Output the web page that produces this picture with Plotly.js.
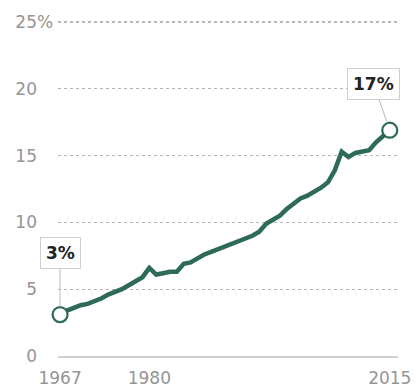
<!DOCTYPE html>
<html>
<head>
<meta charset="utf-8">
<script src="https://cdn.plot.ly/plotly-3.0.1.min.js"></script>
<style>html,body{margin:0;padding:0;background:#fff;}#chart{width:416px;height:387px;}</style>
</head>
<body>
<div id="chart"></div>
<script>
const years = [1967,1968,1969,1970,1971,1972,1973,1974,1975,1976,1977,1978,1979,1980,1981,1982,1983,1984,1985,1986,1987,1988,1989,1990,1991,1992,1993,1994,1995,1996,1997,1998,1999,2000,2001,2002,2003,2004,2005,2006,2007,2008,2009,2010,2011,2012,2013,2014,2015];
const shares = [3.1,3.4,3.6,3.8,3.9,4.1,4.3,4.6,4.8,5.0,5.3,5.6,5.9,6.6,6.1,6.2,6.3,6.3,6.9,7.0,7.3,7.6,7.8,8.0,8.2,8.4,8.6,8.8,9.0,9.3,9.9,10.2,10.5,11.0,11.4,11.8,12.0,12.3,12.6,13.0,13.9,15.3,14.9,15.2,15.3,15.4,16.0,16.5,16.9];
const yTickVals = [0,5,10,15,20,25];
const yTickText = ['0','5','10','15','20','25'];
const xTickVals = [1967,1980,2015];
const xTickText = ['1967','1980','2015'];
const startLabel = '3%';
const endLabel = '17%';

const green = '#2d6b56';
const last = years.length - 1;

const traces = [
  {x: years, y: shares, type: 'scatter', mode: 'lines', cliponaxis: false,
   line: {color: green, width: 4.5, shape: 'linear'}, hoverinfo: 'skip'},
  {x: [years[0], years[last]], y: [shares[0], shares[last]], type: 'scatter', mode: 'markers',
   cliponaxis: false,
   marker: {size: 15, color: '#fff', line: {color: green, width: 2.2}}, hoverinfo: 'skip'}
];

const font = {family: 'DejaVu Sans, Arial, sans-serif', size: 17, color: '#959595'};

const layout = {
  width: 416, height: 387,
  margin: {l: 58, r: 18, t: 18, b: 31, pad: 0},
  paper_bgcolor: '#fff', plot_bgcolor: '#fff',
  showlegend: false,
  font: font,
  xaxis: {
    range: [1966.7, 2016.2], tickvals: xTickVals, ticktext: xTickText,
    showgrid: false, zeroline: false, showline: true, linecolor: '#cfcfcf', linewidth: 1.5,
    ticks: '', ticklabelstandoff: 6, tickfont: font, fixedrange: true
  },
  yaxis: {
    range: [0, 25.3], tickvals: yTickVals, ticktext: yTickText,
    showgrid: true, gridcolor: '#b5b5b5', gridwidth: 1.3, griddash: 'dot',
    zeroline: false, showline: false, ticks: '', ticklabelstandoff: 20,
    tickfont: font, fixedrange: true
  },
  annotations: [
    {xref: 'paper', yref: 'y', x: 0, y: 25, xshift: -23, xanchor: 'left', yanchor: 'middle',
     text: '%', showarrow: false, font: font},
    {x: years[0], y: shares[0], text: '<b>' + startLabel + '</b>',
     showarrow: true, arrowhead: 0, arrowwidth: 1, arrowcolor: '#bdbdbd', standoff: 8,
     ax: 0, ay: -62, bgcolor: '#fff', bordercolor: '#cfcfcf', borderwidth: 1, borderpad: 5,
     font: {family: 'DejaVu Sans, Arial, sans-serif', size: 17, color: '#222'}},
    {x: years[last], y: shares[last], text: '<b>' + endLabel + '</b>',
     showarrow: true, arrowhead: 0, arrowwidth: 1, arrowcolor: '#bdbdbd', standoff: 8,
     ax: -16, ay: -46, bgcolor: '#fff', bordercolor: '#cfcfcf', borderwidth: 1, borderpad: 5,
     font: {family: 'DejaVu Sans, Arial, sans-serif', size: 17, color: '#222'}}
  ]
};

Plotly.newPlot('chart', traces, layout, {staticPlot: true, displayModeBar: false});
</script>
</body>
</html>
